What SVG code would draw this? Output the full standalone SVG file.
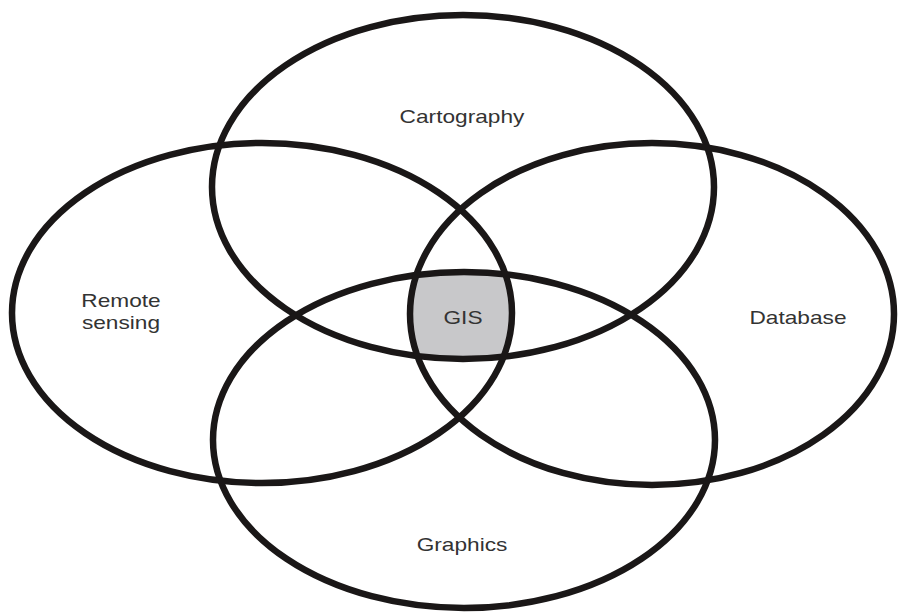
<svg xmlns="http://www.w3.org/2000/svg" width="898" height="613" viewBox="0 0 898 613">
<style>
.ring{fill:none;stroke:#1a1717;stroke-width:6.5}
.lbl{font-family:"Liberation Sans",Arial,sans-serif;font-size:18px;fill:#333;text-anchor:middle}
</style>
<defs>
<clipPath id="cT"><ellipse cx="463" cy="187" rx="251" ry="172"/></clipPath>
<clipPath id="cB"><ellipse cx="464" cy="440" rx="251" ry="168"/></clipPath>
<clipPath id="cL"><ellipse cx="262" cy="313" rx="250" ry="170"/></clipPath>
</defs>
<rect width="898" height="613" fill="#fff"/>
<g id="gis-fill" clip-path="url(#cT)"><g clip-path="url(#cB)"><g clip-path="url(#cL)">
<ellipse cx="652" cy="314" rx="242" ry="171" fill="#c8c8ca"/>
</g></g></g>
<g id="cartography"><ellipse class="ring" cx="463" cy="187" rx="251" ry="172"/>
<text class="lbl" transform="translate(462,123) scale(1.26,1)">Cartography</text></g>
<g id="graphics"><ellipse class="ring" cx="464" cy="440" rx="251" ry="168"/>
<text class="lbl" transform="translate(462,551) scale(1.26,1)">Graphics</text></g>
<g id="remote-sensing"><ellipse class="ring" cx="262" cy="313" rx="250" ry="170"/>
<text class="lbl" transform="translate(121,307) scale(1.26,1)">Remote</text>
<text class="lbl" transform="translate(121,329) scale(1.26,1)">sensing</text></g>
<g id="database"><ellipse class="ring" cx="652" cy="314" rx="242" ry="171"/>
<text class="lbl" transform="translate(798,324) scale(1.26,1)">Database</text></g>
<g id="gis"><text class="lbl" transform="translate(463,324) scale(1.26,1)">GIS</text></g>
<g id="connectors"/>
</svg>
